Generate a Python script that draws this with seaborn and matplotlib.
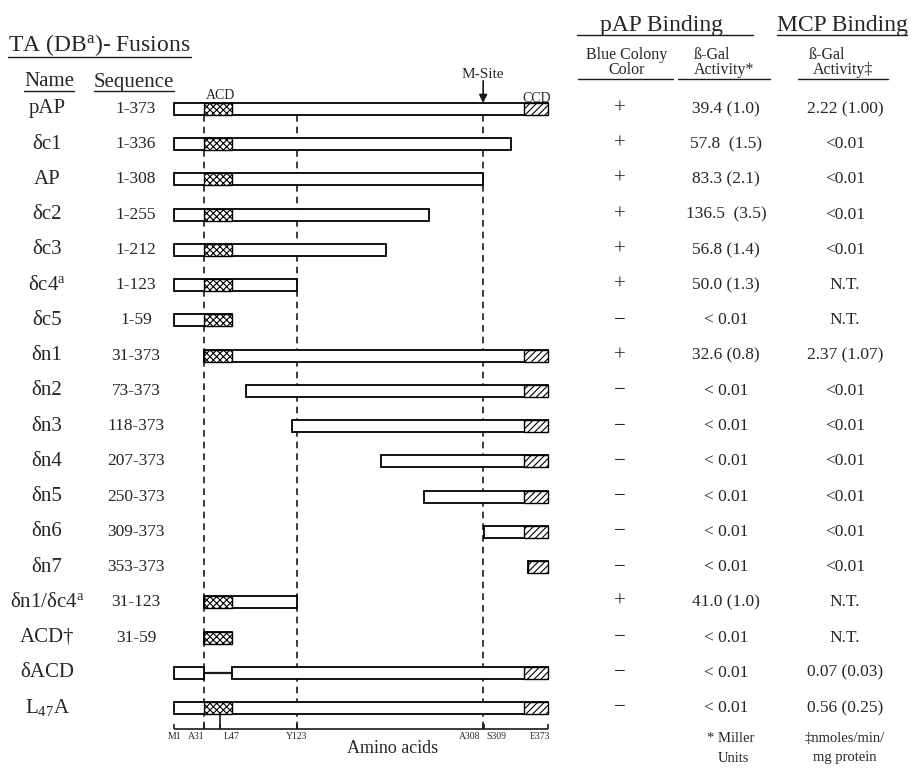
import matplotlib
matplotlib.use('Agg')
import matplotlib.pyplot as plt
import matplotlib.transforms as mtransforms
from matplotlib.lines import Line2D
import seaborn as sns

sns.set_theme(style='white')
plt.rcParams['font.family'] = ['Liberation Serif', 'DejaVu Serif']
plt.rcParams['mathtext.fontset'] = 'custom'
plt.rcParams['mathtext.rm'] = 'Liberation Serif'
plt.rcParams['mathtext.it'] = 'Liberation Serif:italic'
plt.rcParams['mathtext.default'] = 'regular'
plt.rcParams['hatch.linewidth'] = 0.8

# ---- data ----
names = ['pAP', 'δc1', 'AP', 'δc2', 'δc3', 'δc4$^{a}$', 'δc5', 'δn1', 'δn2', 'δn3',
         'δn4', 'δn5', 'δn6', 'δn7', 'δn1/δc4$^{a}$', 'ACD†', 'δACD', 'L$_{47}$A']
seq_start = [1, 1, 1, 1, 1, 1, 1, 31, 73, 118, 207, 250, 309, 353, 31, 31, 1, 1]
seq_end = [373, 336, 308, 255, 212, 123, 59, 373, 373, 373, 373, 373, 373, 373, 123, 59, 373, 373]
seq_labels = ['1-373', '1-336', '1-308', '1-255', '1-212', '1-123', '1-59', '31-373', '73-373',
              '118-373', '207-373', '250-373', '309-373', '353-373', '31-123', '31-59', '', '']
blue_color = ['+', '+', '+', '+', '+', '+', '−', '+', '−', '−', '−', '−', '−', '−', '+', '−', '−', '−']
pap_gal = ['39.4 (1.0)', '57.8  (1.5)', '83.3 (2.1)', '136.5  (3.5)', '56.8 (1.4)', '50.0 (1.3)',
           '< 0.01', '32.6 (0.8)', '< 0.01', '< 0.01', '< 0.01', '< 0.01', '< 0.01', '< 0.01',
           '41.0 (1.0)', '< 0.01', '< 0.01', '< 0.01']
mcp_gal = ['2.22 (1.00)', '<0.01', '<0.01', '<0.01', '<0.01', 'N.T.', 'N.T.', '2.37 (1.07)',
           '<0.01', '<0.01', '<0.01', '<0.01', '<0.01', '<0.01', 'N.T.', 'N.T.',
           '0.07 (0.03)', '0.56 (0.25)']
acd_domain = (31, 59)
ccd_domain = (349, 373)
acd_deleted_row = 'δACD'
m_site = 308.5
guide_lines = [31, 123, 308.5]
tick_pos = [1, 31, 47, 123, 308, 309, 373]
tick_labels = ['M1', 'A31', 'L47', 'Y123', 'A308', 'S309', 'E373']

W, H = 914, 778
fig = plt.figure(figsize=(W / 100, H / 100), dpi=100)
fig.patch.set_facecolor('white')

# bar axes: x = amino acid, y = row
ax = fig.add_axes([174 / W, 1 - 708 / H, (548 - 174) / W, (708 - 109) / H])
ax.set_xlim(1, 373)
ax.set_ylim(17, 0)
ax.axis('off')

bh = 0.34
n = len(names)
axis_row = 17.61

for i in range(n):
    if names[i] == acd_deleted_row:
        segs = [(seq_start[i], acd_domain[0]), (acd_domain[1], seq_end[i])]
        ax.plot([acd_domain[0], acd_domain[1]], [i, i], color='k', lw=1.6, zorder=3, clip_on=False)
    else:
        segs = [(seq_start[i], seq_end[i])]
    for s, e in segs:
        ax.barh(i, e - s, left=s, height=bh, color='white', edgecolor='black', lw=1.3,
                zorder=3, clip_on=False)
        for dom, hatch in [(acd_domain, 'xxxxx'), (ccd_domain, '/////')]:
            ds, de = max(s, dom[0]), min(e, dom[1])
            if de > ds:
                ax.barh(i, de - ds, left=ds, height=bh, color='white', edgecolor='black',
                        hatch=hatch, lw=1.0, zorder=4, clip_on=False)

# dashed guide lines
ax.vlines(guide_lines, bh / 2, axis_row, colors='k', linestyles=(0, (4, 3)), lw=1.2,
          zorder=1, clip_on=False)

# amino acid axis
ax.hlines(axis_row, 1, 373, colors='k', lw=1.2, clip_on=False)
ax.vlines(tick_pos, axis_row - 0.17, axis_row, colors='k', lw=1.2, clip_on=False)
ax.vlines(47, n - 1 + bh / 2, axis_row, colors='k', lw=1.2, clip_on=False)
tick_ha = ['center', 'right', 'left', 'center', 'right', 'left', 'right']
tick_dx = [0, 0, 3, 0, -2, 3, 2]
for p, lab, ha, dx in zip(tick_pos, tick_labels, tick_ha, tick_dx):
    ax.text(p + dx, axis_row + 0.08, lab, ha=ha, va='top', fontsize=7, clip_on=False)
ax.text(218, axis_row + 0.55, 'Amino acids', ha='center', va='center', fontsize=13)

# domain labels and M-site arrow
ax.text(47, -0.37, 'ACD', ha='center', va='center', fontsize=10)
ax.text(362, -0.3, 'CCD', ha='center', va='center', fontsize=10)
ax.text(m_site, -0.97, 'M-Site', ha='center', va='center', fontsize=11)
ax.annotate('', xy=(m_site, -bh / 2), xytext=(m_site, -0.8), annotation_clip=False,
            arrowprops=dict(arrowstyle='-|>', color='k', lw=1.2, mutation_scale=12,
                            shrinkA=0, shrinkB=0))

# text columns (x in figure px, y in rows)
tr = mtransforms.blended_transform_factory(fig.transFigure, ax.transData)
for i in range(n):
    ax.text(47 / W, i, names[i], transform=tr, ha='center', va='center', fontsize=15)
    ax.text(136 / W, i, seq_labels[i], transform=tr, ha='center', va='center', fontsize=12.5)
    ax.text(620 / W, i, blue_color[i], transform=tr, ha='center', va='center', fontsize=15)
    ax.text(726 / W, i, pap_gal[i], transform=tr, ha='center', va='center', fontsize=12.5)
    ax.text(845 / W, i, mcp_gal[i], transform=tr, ha='center', va='center', fontsize=12.5)


def ftext(x, y, s, **kw):
    return fig.text(x / W, 1 - y / H, s, va='center', **kw)


t_title = ftext(8, 45, 'TA (DB$^{a}$)- Fusions', ha='left', fontsize=17)
t_name = ftext(49, 82, 'Name', ha='center', fontsize=15)
t_seq = ftext(134, 82, 'Sequence', ha='center', fontsize=15)
t_pap = ftext(662, 25, 'pAP Binding', ha='center', fontsize=17)
t_mcp = ftext(842, 25, 'MCP Binding', ha='center', fontsize=17)
ftext(627, 55, 'Blue Colony', ha='center', fontsize=11.5)
t_col = ftext(627, 70, 'Color', ha='center', fontsize=11.5)
ftext(712, 55, 'ß-Gal', ha='center', fontsize=11.5)
t_act1 = ftext(724, 70, 'Activity*', ha='center', fontsize=11.5)
ftext(827, 55, 'ß-Gal', ha='center', fontsize=11.5)
t_act2 = ftext(843, 70, 'Activity‡', ha='center', fontsize=11.5)
ftext(731, 738, '* Miller', ha='center', fontsize=10.5)
ftext(733, 758, 'Units', ha='center', fontsize=10.5)
ftext(845, 738, '‡nmoles/min/', ha='center', fontsize=10.5)
ftext(845, 758, 'mg protein', ha='center', fontsize=10.5)

fig.canvas.draw()
renderer = fig.canvas.get_renderer()


def underline(t, x0=None, x1=None, y=None):
    bb = t.get_window_extent(renderer)
    xa = bb.x0 if x0 is None else x0
    xb = bb.x1 if x1 is None else x1
    yy = bb.y0 + 1 if y is None else H - y
    fig.add_artist(Line2D([xa / W, xb / W], [yy / H, yy / H], transform=fig.transFigure,
                          color='k', lw=1.0))


underline(t_title)
underline(t_name)
underline(t_seq)
underline(t_pap, x0=577, x1=753)
underline(t_mcp)
underline(t_col, x0=578, x1=673, y=79)
underline(t_act1, x0=678, x1=770, y=79)
underline(t_act2, x0=798, x1=888, y=79)

fig.savefig('out.png', dpi=100, facecolor='white')
